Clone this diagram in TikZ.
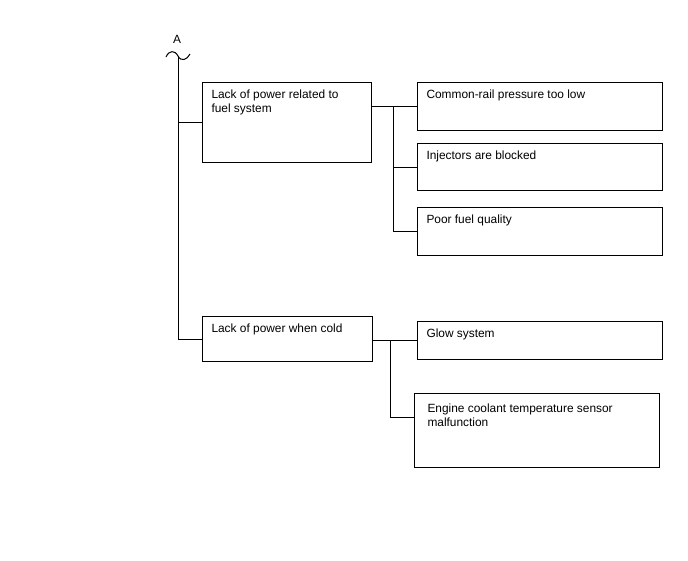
\documentclass[tikz,border=0pt]{standalone}
\usepackage{fontspec}
\setmainfont{Liberation Sans}
\usetikzlibrary{calc}

% box content: outer width, outer height, text (top left)
\newcommand{\boxtxt}[3]{\parbox[c][\dimexpr#2pt-14pt\relax][t]{\dimexpr#1pt-18pt\relax}{\raggedright #3}}

\begin{document}
\begin{tikzpicture}[
    x=1pt, y=-1pt,
    every node/.style={font=\fontsize{11.9}{14}\selectfont},
    box/.style={draw, line width=1pt, anchor=north west, inner xsep=9pt, inner ysep=7pt},
    wire/.style={draw, line width=1pt}
]
\useasboundingbox (0,0) rectangle (688,560);

% break mark at the top
\node (lblA) at (177,39) {A};
\coordinate (top) at (178,56);
\draw[wire] (166,57) .. controls (169,50) and (175,50) .. (top)
    .. controls (181,62) and (187,60) .. (190,54);

% main causes
\node[box] (b1) at (202,82) {\boxtxt{169}{80}{Lack of power related to\\fuel system}};
\node[box] (b2) at (202,316) {\boxtxt{170}{45}{Lack of power when cold}};
\draw[wire] (top) |- (b2.west);
\draw[wire] (b1.west -| top) -- (b1.west);

% fuel system
\node[box] (a1) at (417,82) {\boxtxt{245}{48}{Common-rail pressure too low}};
\node[box] (a2) at (417,143) {\boxtxt{245}{47}{Injectors are blocked}};
\node[box] (a3) at (417,207) {\boxtxt{245}{48}{Poor fuel quality}};
\coordinate (j1) at (393,0);
\draw[wire] (a1.west -| b1.east) -- (a1.west);
\draw[wire] (a1.west -| j1) |- (a3.west);
\draw[wire] (a2.west -| j1) -- (a2.west);

% cold
\node[box] (g1) at (417,321) {\boxtxt{245}{38}{Glow system}};
\node[box, inner xsep=13pt, inner ysep=10pt] (e1) at (414,393) {\boxtxt{237}{68}{Engine coolant temperature sensor\\malfunction}};
\coordinate (j2) at (390,0);
\draw[wire] (g1.west -| b2.east) -- (g1.west);
\draw[wire] (g1.west -| j2) |- ($(e1.north west)+(0,24)$);
\end{tikzpicture}
\end{document}
